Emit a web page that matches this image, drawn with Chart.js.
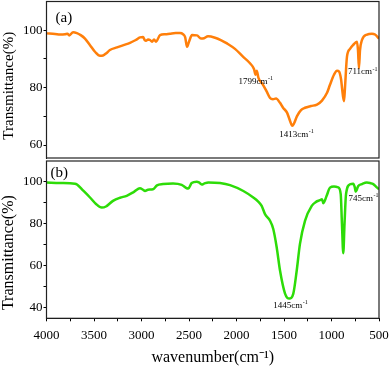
<!DOCTYPE html>
<html>
<head>
<meta charset="utf-8">
<script src="https://cdn.jsdelivr.net/npm/chart.js@4/dist/chart.umd.min.js"></script>
<style>
  html, body { margin: 0; padding: 0; background: #fff; }
  #wrap { position: relative; width: 390px; height: 371px; overflow: hidden; }
  #wrap canvas { position: absolute; left: 0; }
  #chartA { top: 0; }
  #chartB { top: 160px; }
</style>
</head>
<body>
<div id="wrap">
  <canvas id="chartA" width="390" height="160"></canvas>
  <canvas id="chartB" width="390" height="211"></canvas>
</div>
<script>
/* FTIR spectra, two panels (a) orange / (b) green */

// ---- data ----
const waveA = [4000, 3910, 3858, 3805, 3780, 3760, 3720, 3680, 3640, 3595,
  3542, 3490, 3437, 3405, 3370, 3332, 3258, 3190, 3121, 3060,
  3016, 2984, 2965, 2953, 2930, 2910, 2889, 2868, 2847, 2805,
  2750, 2700, 2640, 2595, 2563, 2540, 2521, 2500, 2468, 2416,
  2374, 2342, 2300, 2226, 2160, 2100, 2016, 1932, 1858, 1816,
  1799, 1787, 1768, 1721, 1680, 1647, 1616, 1584, 1542, 1510,
  1468, 1437, 1413, 1395, 1363, 1321, 1279, 1216, 1153, 1100,
  1047, 1016, 974, 942, 921, 900, 879, 868, 858, 837,
  805, 774, 732, 721, 711, 700, 679, 626, 574, 542, 500];
const transA = [98.9, 98.7, 98.5, 98.6, 98.8, 98.2, 99.3, 99.0, 98.3, 97.1,
  94.8, 92.5, 91.1, 91.2, 92.0, 93.1, 94.0, 94.8, 95.6, 96.6,
  97.5, 97.6, 96.5, 96.3, 96.8, 96.6, 96.0, 96.8, 96.0, 98.3,
  98.6, 98.8, 99.0, 99.0, 98.6, 97.5, 94.2, 96.0, 98.3, 98.2,
  97.1, 97.2, 97.9, 97.4, 96.5, 95.4, 93.5, 90.8, 88.5, 86.5,
  84.5, 85.9, 83.3, 81.0, 78.5, 76.4, 76.0, 76.2, 74.7, 73.0,
  71.3, 68.5, 66.7, 67.5, 70.1, 72.2, 73.0, 73.6, 74.1, 75.5,
  78.2, 81.0, 84.5, 85.9, 85.6, 83.0, 77.0, 75.3, 80.0, 90.8,
  93.5, 94.8, 96.0, 93.0, 86.8, 93.0, 96.6, 98.5, 98.8, 98.5, 97.1];

const waveB = [4000, 3858, 3700, 3679, 3616, 3542, 3479, 3419, 3374, 3300,
  3226, 3156, 3079, 3016, 2984, 2963, 2932, 2879, 2837, 2774,
  2668, 2577, 2524, 2507, 2472, 2419, 2395, 2366, 2342, 2297,
  2174, 2068, 1928, 1823, 1774, 1735, 1700, 1647, 1613, 1577,
  1542, 1489, 1445, 1402, 1366, 1332, 1279, 1208, 1163, 1121,
  1100, 1086, 1051, 1016, 974, 929, 903, 890, 876, 863,
  847, 805, 771, 755, 745, 718, 679, 629, 595, 560, 532, 500];
const transB = [99.7, 99.5, 99.2, 98.8, 96.0, 92.6, 89.5, 87.8, 88.3, 91.0,
  92.5, 93.4, 95.3, 97.0, 96.3, 95.7, 96.3, 96.5, 98.4, 99.0,
  99.3, 98.6, 97.0, 96.9, 99.5, 100.1, 99.8, 98.8, 99.2, 99.8,
  99.5, 98.5, 95.7, 92.6, 90.8, 88.6, 84.7, 81.5, 77.6, 68.9,
  57.8, 46.8, 44.4, 46.8, 57.8, 70.5, 81.5, 88.6, 90.5, 91.3,
  91.8, 89.9, 93.4, 97.3, 97.8, 97.4, 94.2, 80.0, 66.0, 80.0,
  94.2, 98.9, 99.2, 97.5, 95.4, 98.1, 99.0, 99.7, 99.5, 99.0, 97.8, 96.5];

const peaksA = [1799, 1413, 711];
const peaksB = [1445, 745];

const xTicks = [4000, 3750, 3500, 3250, 3000, 2750, 2500, 2250, 2000, 1750, 1500, 1250, 1000, 750, 500];
const xLabels = [4000, 3500, 3000, 2500, 2000, 1500, 1000, 500];
const yTicksA = [60, 70, 80, 90, 100];
const yLabelsA = [60, 80, 100];
const yTicksB = [40, 50, 60, 70, 80, 90, 100];
const yLabelsB = [40, 60, 80, 100];

// ---- styles ----
const SERIF = "'Liberation Serif', 'Times New Roman', serif";
const INK = '#000';
const ORANGE = '#ff7f0a';
const GREEN = '#2ddc08';

// label offsets (px) from the peak point on the curve
const peakOffset = {
  1799: [0, 7], 1413: [4, 8.5], 711: [3.5, 4],
  1445: [1, 7], 745: [7.5, 7],
};

const points = (xs, ys) => xs.map((x, i) => ({ x, y: ys[i] }));

// no auto padding from tick labels: plot area edges are fixed by layout padding
const noPad = (s) => { s.paddingTop = 0; s.paddingBottom = 0; s.paddingLeft = 0; s.paddingRight = 0; };

// frame, y title, panel letter, peak labels
const decor = {
  id: 'decor',
  afterDatasetsDraw(chart, args, opts) {
    const { ctx, chartArea: a, scales } = chart;
    ctx.save();
    ctx.strokeStyle = '#222';
    ctx.lineWidth = 1.2;
    ctx.strokeRect(a.left, a.top, a.right - a.left, a.bottom - a.top);

    ctx.fillStyle = INK;
    ctx.textBaseline = 'middle';

    // rotated y title, a bit below the middle as in the source figure
    ctx.save();
    ctx.translate(9, (a.top + a.bottom) / 2 + opts.titleShift);
    ctx.rotate(-Math.PI / 2);
    ctx.textAlign = 'center';
    ctx.font = `${opts.titleSize}px ${SERIF}`;
    ctx.fillText('Transmittance(%)', 0, 0);
    ctx.restore();

    ctx.textAlign = 'left';
    ctx.font = `15px ${SERIF}`;
    ctx.fillText(opts.letter, a.left + opts.letterDx, a.top + opts.letterDy);

    opts.peaks.forEach((wn) => {
      const i = opts.wave.indexOf(wn);
      const px = scales.x.getPixelForValue(wn);
      const py = scales.y.getPixelForValue(opts.trans[i]);
      const [dx, dy] = peakOffset[wn];
      const base = `${wn}cm`;
      ctx.font = `9px ${SERIF}`;
      const wb = ctx.measureText(base).width;
      ctx.font = `6px ${SERIF}`;
      const ws = ctx.measureText('-1').width;
      const x0 = px + dx - (wb + ws) / 2;
      const y0 = py + dy;
      ctx.font = `9px ${SERIF}`;
      ctx.fillText(base, x0, y0);
      ctx.font = `6px ${SERIF}`;
      ctx.fillText('-1', x0 + wb + 0.5, y0 - 3);
    });
    ctx.restore();
  },
};

function yScale(min, max, ticks, labels) {
  return {
    type: 'linear', min, max,
    afterBuildTicks: (s) => { s.ticks = ticks.map((v) => ({ value: v })); },
    afterFit: (s) => { s.width = 46.5; noPad(s); },
    grid: { drawOnChartArea: false, tickLength: 3, color: INK },
    border: { display: true, color: INK },
    ticks: {
      color: INK, padding: 1, font: { family: SERIF, size: 13 },
      callback: (v) => (labels.includes(v) ? v : ''),
    },
  };
}

function lineSet(xs, ys, color) {
  return {
    data: points(xs, ys),
    borderColor: color, backgroundColor: color,
    borderWidth: 2.5, pointRadius: 0,
    cubicInterpolationMode: 'monotone',
  };
}

new Chart(document.getElementById('chartA'), {
  type: 'line',
  data: { datasets: [lineSet(waveA, transA, ORANGE)] },
  options: {
    responsive: false, animation: false,
    layout: { padding: { left: 0, right: 11, top: 1.5, bottom: 2 } },
    plugins: {
      legend: { display: false }, tooltip: { enabled: false },
      decor: {
        letter: '(a)', letterDx: 9, letterDy: 16.5, titleShift: 6, titleSize: 15,
        peaks: peaksA, wave: waveA, trans: transA,
      },
    },
    scales: {
      x: { type: 'linear', reverse: true, min: 500, max: 4000, display: false },
      y: yScale(55.5, 110, yTicksA, yLabelsA),
    },
  },
  plugins: [decor],
});

new Chart(document.getElementById('chartB'), {
  type: 'line',
  data: { datasets: [lineSet(waveB, transB, GREEN)] },
  options: {
    responsive: false, animation: false,
    layout: { padding: { left: 0, right: 11, top: 1, bottom: 0 } },
    plugins: {
      legend: { display: false }, tooltip: { enabled: false },
      decor: {
        letter: '(b)', letterDx: 4, letterDy: 12, titleShift: 13, titleSize: 16,
        peaks: peaksB, wave: waveB, trans: transB,
      },
    },
    scales: {
      x: {
        type: 'linear', reverse: true, min: 500, max: 4000,
        afterBuildTicks: (s) => { s.ticks = xTicks.map((v) => ({ value: v })); },
        afterFit: (s) => { s.height = 52.7; noPad(s); },
        grid: { drawOnChartArea: false, tickLength: 3, color: INK },
        border: { display: true, color: INK },
        ticks: {
          color: INK, padding: 6, maxRotation: 0, autoSkip: false,
          font: { family: SERIF, size: 13 },
          callback: (v) => (xLabels.includes(v) ? v : ''),
        },
        title: {
          display: true, text: 'wavenumber(cm⁻¹)', color: INK,
          font: { family: SERIF, size: 16 }, padding: { top: 0, bottom: 4 },
        },
      },
      y: yScale(35, 110, yTicksB, yLabelsB),
    },
  },
  plugins: [decor],
});
</script>
</body>
</html>
